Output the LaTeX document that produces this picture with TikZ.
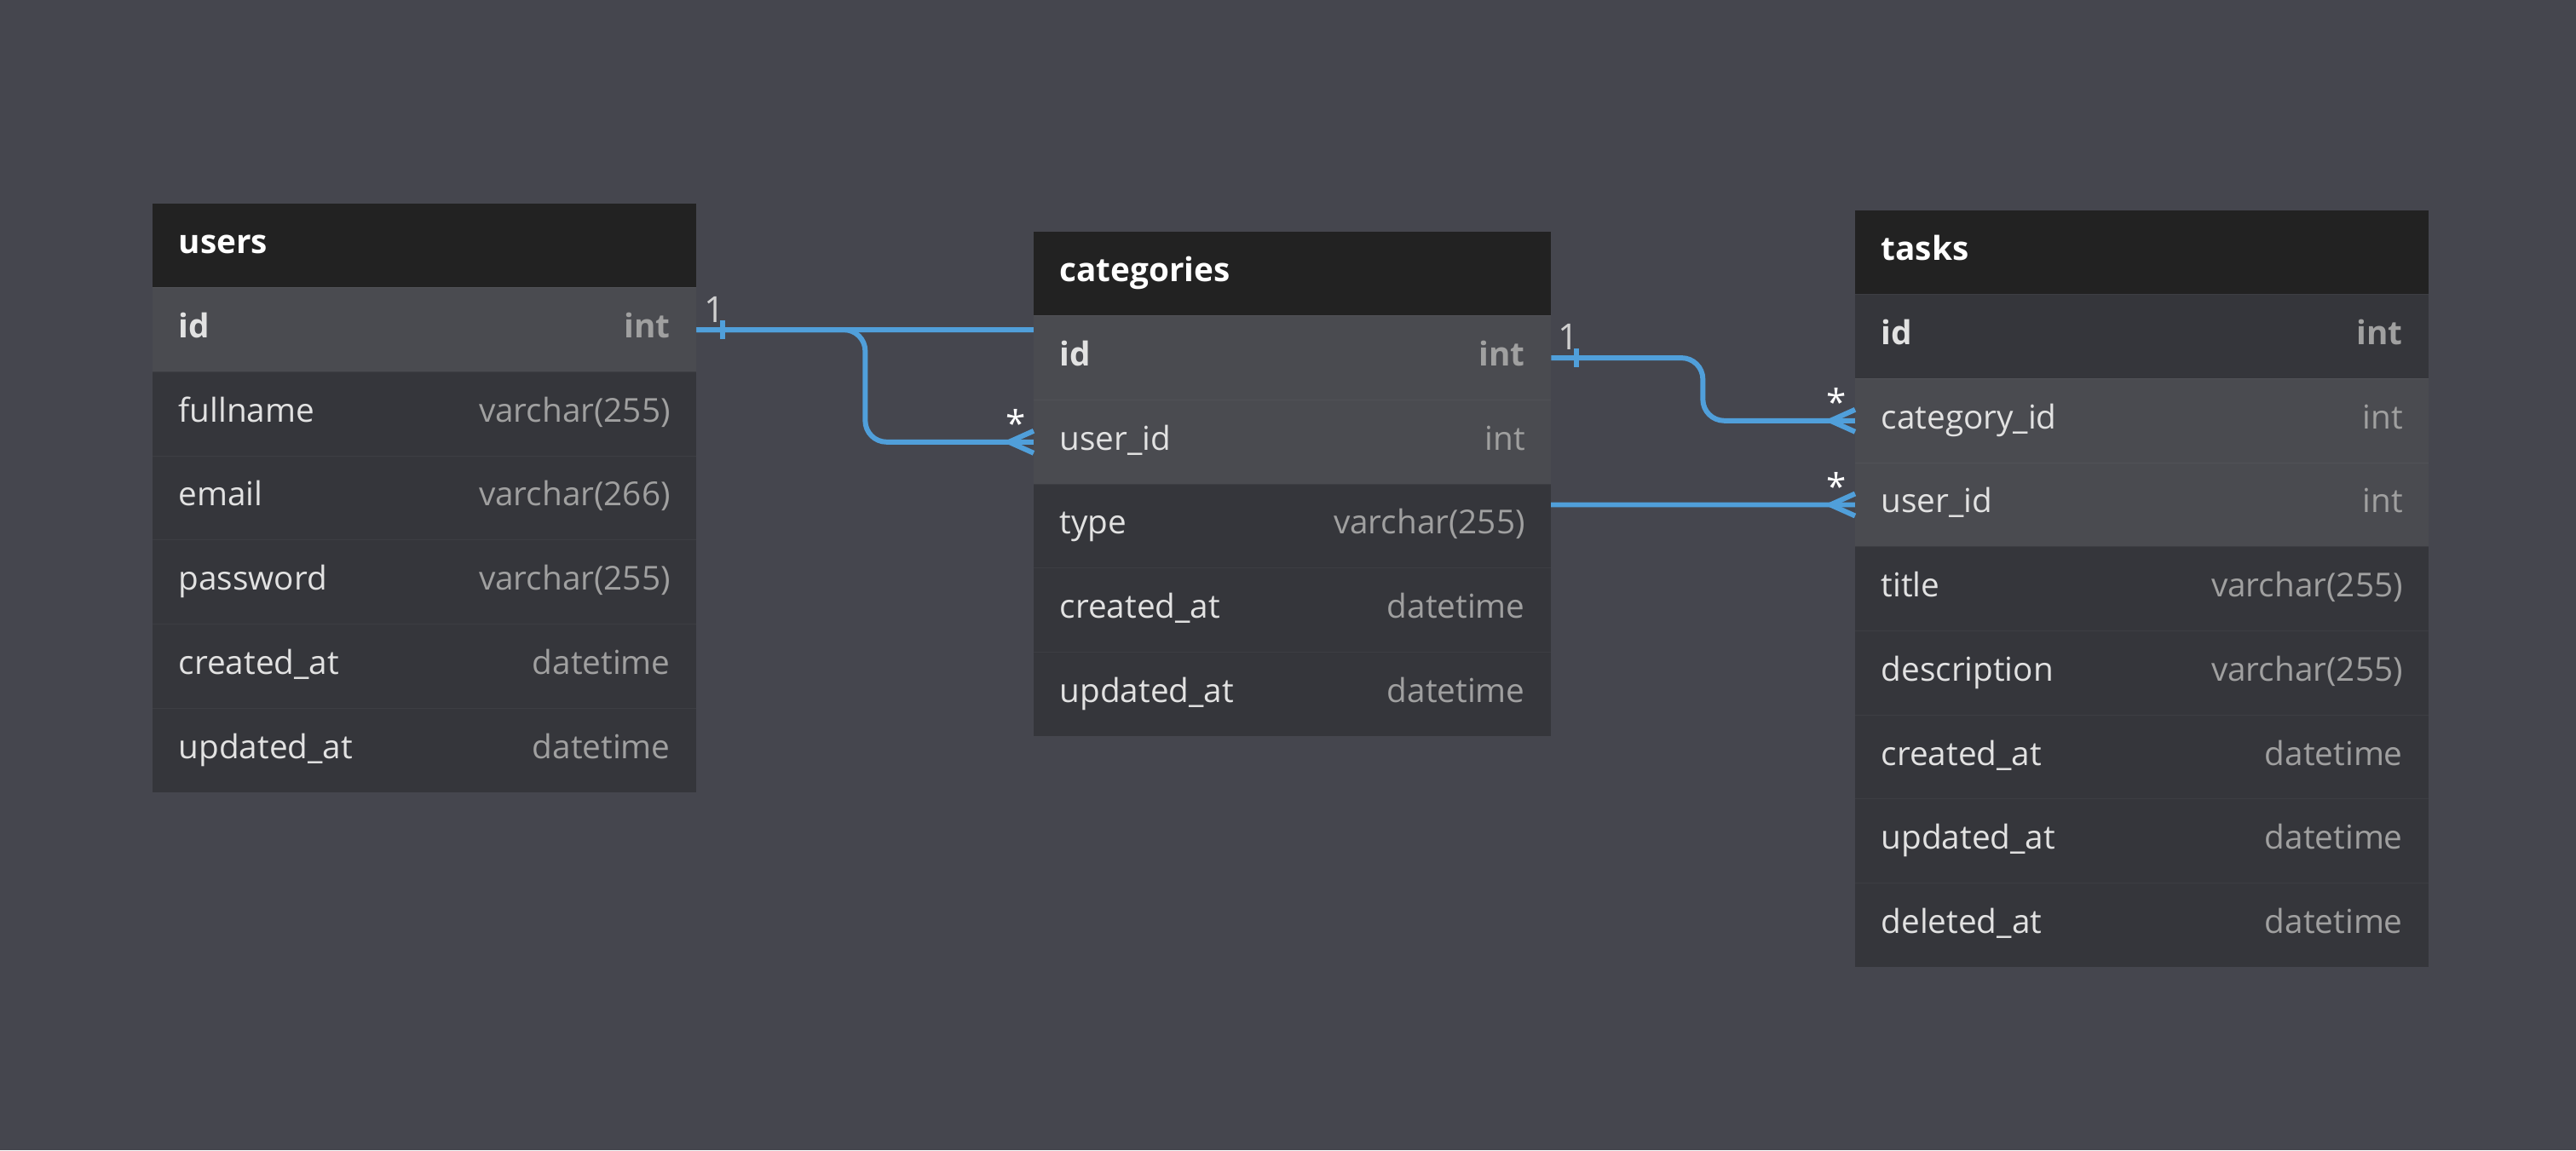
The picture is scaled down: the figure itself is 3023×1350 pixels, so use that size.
\documentclass[tikz,border=0pt]{standalone}
\usepackage{fontspec}
\setmainfont{Open Sans}

\definecolor{canvasbg}{HTML}{45464E}
\definecolor{headbg}{HTML}{222222}
\definecolor{rowbg}{HTML}{35363B}
\definecolor{keybg}{HTML}{4A4B50}
\definecolor{namefg}{HTML}{E2E2E2}
\definecolor{typefg}{HTML}{A0A0A0}
\definecolor{cardfg}{HTML}{D0D0D0}
\definecolor{linkblue}{HTML}{509FDA}

\newcommand\erfont{\fontsize{11}{13}\selectfont}

\pgfdeclarelayer{canvas}
\pgfdeclarelayer{links}
\pgfsetlayers{canvas,links,main}

\tikzset{
  tablehead/.style={anchor=north west, minimum width=\tw, minimum height=\rowh,
    inner sep=0pt, outer sep=0pt, fill=headbg},
  tabletitle/.style={anchor=west, xshift=\pad, inner sep=0pt, text=white,
    font=\erfont\bfseries, text height=1.5ex, text depth=0.5ex},
  tablerow/.style={anchor=north west, minimum width=\tw, minimum height=\rowh,
    inner sep=0pt, outer sep=0pt},
  rowline/.style={line width=0.3pt},
  colname/.style={anchor=west, xshift=\pad, inner sep=0pt, text=namefg,
    font=\erfont, text height=1.5ex, text depth=0.5ex},
  coltype/.style={anchor=east, xshift=-\pad, inner sep=0pt, text=typefg,
    font=\erfont, text height=1.5ex, text depth=0.5ex},
  pk/.style={font=\erfont\bfseries},
  col/.style={},
  link/.style={draw=linkblue, line width=1.7pt, rounded corners=0.25cm},
  card/.style={inner sep=0pt, font=\fontsize{12}{14}\selectfont, text=cardfg},
  crow/.pic={\draw[link, rounded corners=0pt] (0,-13) -- (-29,0) -- (0,13);},
  onebar/.pic={\draw[link, rounded corners=0pt] (0,-11) -- (0,11);}
}

\begin{document}
\begin{tikzpicture}[x=0.01cm, y=-0.01cm]
    \def\rh{98.7}
    \def\rowh{0.987cm}
    \def\pad{0.3cm}

    \begin{pgfonlayer}{canvas}
        \fill[canvasbg] (0,0) rectangle (3023,1350);
    \end{pgfonlayer}

    \def\tw{6.38cm}
    \node[tablehead] (users) at (179,239) {};
    \node[tabletitle] (users-title) at (users.west) {users};
    \foreach \fn/\ft/\bg/\kd [count=\i] in {id/int/keybg/pk,
        fullname/varchar(255)/rowbg/col, email/varchar(266)/rowbg/col,
        password/varchar(255)/rowbg/col, created\_at/datetime/rowbg/col,
        updated\_at/datetime/rowbg/col} {
        \node[tablerow, fill=\bg] (users-\i) at (179,{239+\i*\rh}) {};
        \draw[rowline, \bg!96!white] (users-\i.north west) -- (users-\i.north east);
        \node[colname, \kd] (users-\i-n) at (users-\i.west) {\fn};
        \node[coltype, \kd] (users-\i-t) at (users-\i.east) {\ft};
    }

    \def\tw{6.07cm}
    \node[tablehead] (categories) at (1213,272) {};
    \node[tabletitle] (categories-title) at (categories.west) {categories};
    \foreach \fn/\ft/\bg/\kd [count=\i] in {id/int/keybg/pk,
        user\_id/int/keybg/col, type/varchar(255)/rowbg/col,
        created\_at/datetime/rowbg/col, updated\_at/datetime/rowbg/col} {
        \node[tablerow, fill=\bg] (categories-\i) at (1213,{272+\i*\rh}) {};
        \draw[rowline, \bg!96!white] (categories-\i.north west) -- (categories-\i.north east);
        \node[colname, \kd] (categories-\i-n) at (categories-\i.west) {\fn};
        \node[coltype, \kd] (categories-\i-t) at (categories-\i.east) {\ft};
    }

    \def\tw{6.73cm}
    \node[tablehead] (tasks) at (2177,247) {};
    \node[tabletitle] (tasks-title) at (tasks.west) {tasks};
    \foreach \fn/\ft/\bg/\kd [count=\i] in {id/int/rowbg/pk,
        category\_id/int/keybg/col, user\_id/int/keybg/col,
        title/varchar(255)/rowbg/col, description/varchar(255)/rowbg/col,
        created\_at/datetime/rowbg/col, updated\_at/datetime/rowbg/col,
        deleted\_at/datetime/rowbg/col} {
        \node[tablerow, fill=\bg] (tasks-\i) at (2177,{247+\i*\rh}) {};
        \draw[rowline, \bg!96!white] (tasks-\i.north west) -- (tasks-\i.north east);
        \node[colname, \kd] (tasks-\i-n) at (tasks-\i.west) {\fn};
        \node[coltype, \kd] (tasks-\i-t) at (tasks-\i.east) {\ft};
    }

    \begin{pgfonlayer}{links}
        \draw[link] (users-1.east) -- ++(198,0) |- (categories-2.west);
        \draw[link] (users-1.east) -- ++(680,0) |- (tasks-3.west);
        \draw[link] (categories-1.east) -- ++(178,0) |- (tasks-2.west);
    \end{pgfonlayer}

    \path (users-1.east) ++(31,0) pic {onebar};
    \path (categories-1.east) ++(30,0) pic {onebar};
    \pic at (categories-2.west) {crow};
    \pic at (tasks-2.west) {crow};
    \pic at (tasks-3.west) {crow};

    \path (users-1.east) ++(21,-9) node[card, anchor=base] (users-one) {1};
    \path (categories-1.east) ++(20,-10) node[card, anchor=base] (categories-one) {1};
    \path (categories-2.west) ++(-21,-6) node[card, anchor=base, text=white] (categories-many) {*};
    \path (tasks-2.west) ++(-22,-6) node[card, anchor=base, text=white] (tasks-many-c) {*};
    \path (tasks-3.west) ++(-22,-6) node[card, anchor=base, text=white] (tasks-many-u) {*};
\end{tikzpicture}
\end{document}
